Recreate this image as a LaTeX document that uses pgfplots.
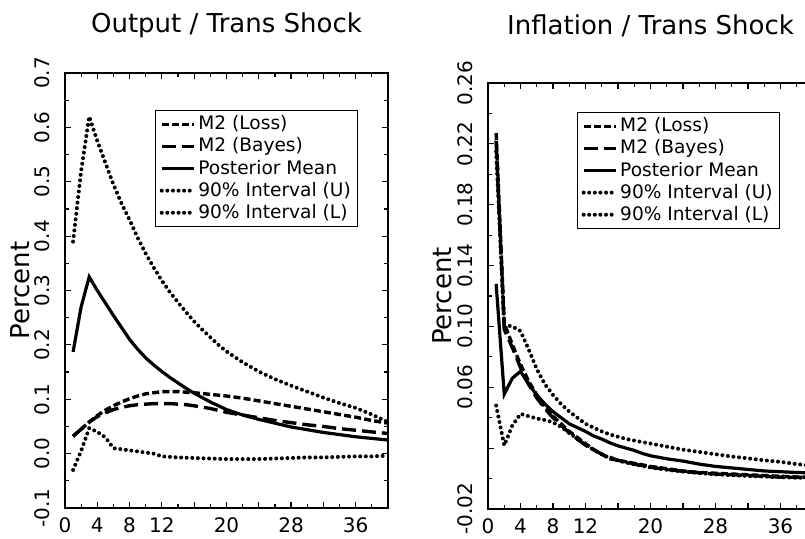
\documentclass[border=0pt]{standalone}
\usepackage{fontspec}
\setmainfont{DejaVu Sans}
\usepackage{pgfplots}
\pgfplotsset{compat=1.18}

\pgfplotsset{
  irf/.style={
    scale only axis,
    xmin=0, xmax=40,
    xtick={0,4,8,12,16,20,24,28,32,36,40},
    xticklabels={0,4,8,12,,20,,28,,36,},
    minor x tick num=1,
    minor y tick num=1,
    tick align=inside,
    major tick length=3pt, minor tick length=1.8pt,
    axis line style={line width=1.1pt},
    every tick/.style={line width=0.6pt, black},
    tick label style={font=\fontsize{10}{12}\selectfont},
    yticklabel style={rotate=90, anchor=south},
    yticklabel shift=4pt,
    xticklabel shift=1.5pt,
    title style={font=\fontsize{13}{15}\selectfont, anchor=base, at={(axis description cs:0.5,1)}},
    ylabel={Percent},
    ylabel style={font=\fontsize{13}{15}\selectfont, anchor=center},
    legend cell align=left,
    legend style={font=\fontsize{9.3}{11}\selectfont, draw=black, line width=0.5pt,
      inner sep=2pt, row sep=1.3pt, nodes={inner xsep=1.3pt, inner ysep=0.6pt}, anchor=north east},
    legend image code/.code={\draw[##1] (0pt,0pt) -- (16pt,0pt);},
  },
  loss/.style={black, line width=1.7pt, dash pattern=on 3.5pt off 1.6pt},
  bayes/.style={black, line width=1.7pt, dash pattern=on 7pt off 3pt},
  pmean/.style={black, line width=1.6pt},
  band/.style={black, line width=2pt, line cap=round, dash pattern=on 0pt off 2.8pt},
}

\begin{document}
\begin{tikzpicture}
\useasboundingbox (0pt,0pt) rectangle (402.5pt,269pt);
\clip (0pt,0pt) rectangle (402.5pt,269pt);

% output
\begin{axis}[irf, at={(32.5pt,15pt)}, anchor=south west,
  width=161.5pt, height=217.5pt,
  ymin=-0.1, ymax=0.7,
  ytick={-0.1,0,0.1,0.2,0.3,0.4,0.5,0.6,0.7},
  yticklabels={-0.1,0.0,0.1,0.2,0.3,0.4,0.5,0.6,0.7},
  title={Output / Trans Shock}, title style={yshift=14.5pt},
  ylabel style={at={(axis description cs:-0.14,0.5)}},
  legend style={at={(0.907,0.915)}},
]
\addplot[loss] coordinates {
(1,0.032) (2,0.045) (3,0.058) (4,0.070) (5,0.080) (6,0.088) (7,0.095) (8,0.101)
(9,0.106) (10,0.110) (11,0.112) (12,0.114) (13,0.114) (14,0.114) (15,0.113) (16,0.112)
(18,0.109) (20,0.106) (22,0.102) (24,0.097) (26,0.092) (28,0.087) (30,0.082) (32,0.077)
(34,0.072) (36,0.067) (38,0.061) (40,0.056)};
\addlegendentry{M2 (Loss)}
\addplot[bayes] coordinates {
(1,0.032) (2,0.045) (3,0.058) (4,0.068) (5,0.075) (6,0.081) (7,0.085) (8,0.088)
(9,0.090) (10,0.091) (11,0.092) (12,0.092) (13,0.092) (14,0.091) (15,0.090) (16,0.088)
(18,0.083) (20,0.076) (22,0.071) (24,0.066) (26,0.061) (28,0.057) (30,0.053) (32,0.050)
(34,0.046) (36,0.043) (38,0.040) (40,0.037)};
\addlegendentry{M2 (Bayes)}
\addplot[pmean] coordinates {
(1,0.187) (2,0.270) (3,0.325) (4,0.300) (5,0.277) (6,0.254) (7,0.232) (8,0.210)
(9,0.192) (10,0.176) (11,0.163) (12,0.151) (13,0.140) (14,0.130) (15,0.120) (16,0.111)
(17,0.103) (18,0.095) (19,0.088) (20,0.081) (22,0.071) (24,0.063) (26,0.056) (28,0.049)
(30,0.044) (32,0.039) (34,0.035) (36,0.031) (38,0.028) (40,0.025)};
\addlegendentry{Posterior Mean}
\addplot[band] coordinates {
(1,0.390) (2,0.520) (3,0.620) (4,0.575) (5,0.535) (6,0.495) (7,0.460) (8,0.430)
(9,0.397) (10,0.368) (11,0.342) (12,0.318) (13,0.297) (14,0.278) (15,0.260) (16,0.243)
(17,0.228) (18,0.214) (19,0.200) (20,0.188) (22,0.168) (24,0.151) (26,0.137) (28,0.125)
(30,0.114) (32,0.103) (34,0.093) (36,0.084) (38,0.072) (40,0.058)};
\addlegendentry{90\% Interval (U)}
\addplot[band] coordinates {
(1,-0.030) (2,0.005) (3,0.047) (4,0.040) (5,0.030) (6,0.010) (7,0.008) (8,0.006)
(9,0.004) (10,0.002) (11,0.000) (12,-0.005) (14,-0.007) (16,-0.008) (18,-0.009)
(20,-0.010) (22,-0.010) (24,-0.010) (26,-0.009) (28,-0.008) (30,-0.007) (32,-0.007)
(34,-0.006) (36,-0.005) (38,-0.005) (40,-0.004)};
\addlegendentry{90\% Interval (L)}
\end{axis}

% inflation
\begin{axis}[irf, at={(244pt,14.5pt)}, anchor=south west,
  width=162.5pt, height=213pt,
  ymin=-0.02, ymax=0.26,
  ytick={-0.02,0.02,0.06,0.10,0.14,0.18,0.22,0.26},
  yticklabels={-0.02,,0.06,0.10,0.14,0.18,0.22,0.26},
  title={Inflation / Trans Shock}, title style={yshift=18.5pt},
  ylabel style={at={(axis description cs:-0.142,0.5)}},
  legend style={at={(0.898,0.932)}},
]
\addplot[loss] coordinates {
(1,0.227) (2,0.102) (3,0.088) (4,0.075) (5,0.064) (6,0.055) (7,0.047) (8,0.041)
(9,0.036) (10,0.031) (11,0.027) (12,0.023) (13,0.019) (14,0.016) (15,0.013) (16,0.012)
(17,0.011) (18,0.010) (19,0.009) (20,0.008) (22,0.0065) (24,0.005) (26,0.004) (28,0.0035)
(30,0.003) (32,0.0025) (34,0.002) (36,0.0015) (38,0.001) (40,0.001)};
\addlegendentry{M2 (Loss)}
\addplot[bayes] coordinates {
(1,0.222) (2,0.098) (3,0.086) (4,0.073) (5,0.062) (6,0.053) (7,0.046) (8,0.040)
(9,0.035) (10,0.030) (11,0.026) (12,0.022) (13,0.019) (14,0.016) (15,0.014) (16,0.012)
(17,0.011) (18,0.0095) (19,0.0085) (20,0.0075) (22,0.006) (24,0.0048) (26,0.0038) (28,0.003)
(30,0.0025) (32,0.002) (34,0.0015) (36,0.001) (38,0.0008) (40,0.0006)};
\addlegendentry{M2 (Bayes)}
\addplot[pmean] coordinates {
(1,0.128) (2,0.0555) (3,0.066) (4,0.0705) (5,0.062) (6,0.055) (7,0.049) (8,0.044)
(9,0.040) (10,0.036) (11,0.0335) (12,0.031) (13,0.028) (14,0.026) (15,0.0235) (16,0.0215)
(17,0.020) (18,0.0185) (19,0.0165) (20,0.015) (22,0.013) (24,0.0115) (26,0.0095) (28,0.008)
(30,0.007) (32,0.006) (34,0.005) (36,0.0045) (38,0.004) (40,0.0037)};
\addlegendentry{Posterior Mean}
\addplot[band] coordinates {
(1,0.215) (2,0.101) (3,0.100) (4,0.097) (5,0.085) (6,0.072) (7,0.062) (8,0.055)
(9,0.049) (10,0.044) (11,0.040) (12,0.036) (13,0.0335) (14,0.031) (15,0.029) (16,0.0275)
(17,0.026) (18,0.025) (19,0.024) (20,0.023) (22,0.021) (24,0.019) (26,0.0175) (28,0.016)
(30,0.0145) (32,0.0133) (34,0.012) (36,0.011) (38,0.0095) (40,0.0085)};
\addlegendentry{90\% Interval (U)}
\addplot[band] coordinates {
(1,0.048) (2,0.0218) (3,0.035) (4,0.0425) (5,0.041) (6,0.0395) (7,0.0385) (8,0.037)
(9,0.034) (10,0.030) (11,0.026) (12,0.022) (13,0.019) (14,0.016) (15,0.0135) (16,0.0118)
(17,0.0105) (18,0.0093) (19,0.0083) (20,0.0073) (22,0.0058) (24,0.0046) (26,0.0036) (28,0.0028)
(30,0.0022) (32,0.0017) (34,0.0013) (36,0.0009) (38,0.0006) (40,0.0004)};
\addlegendentry{90\% Interval (L)}
\end{axis}
\end{tikzpicture}
\end{document}
